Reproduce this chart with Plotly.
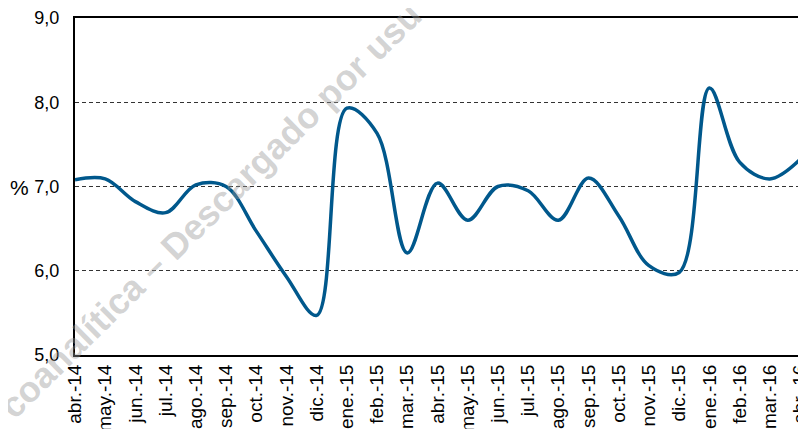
import plotly.graph_objects as go

months = ["abr.-14", "may.-14", "jun.-14", "jul.-14", "ago.-14", "sep.-14", "oct.-14",
          "nov.-14", "dic.-14", "ene.-15", "feb.-15", "mar.-15", "abr.-15", "may.-15",
          "jun.-15", "jul.-15", "ago.-15", "sep.-15", "oct.-15", "nov.-15", "dic.-15",
          "ene.-16", "feb.-16", "mar.-16", "abr.-16"]
values = [7.08, 7.09, 6.82, 6.69, 7.02, 7.00, 6.47, 5.93, 5.47, 7.93, 7.63, 6.21, 7.04,
          6.60, 7.00, 6.95, 6.60, 7.10, 6.65, 6.06, 5.98, 8.17, 7.29, 7.09, 7.32]
y_ticks = [5, 6, 7, 8, 9]

FONT = "Arial, Liberation Sans, sans-serif"

# page body has an 8px margin: size the figure to fill the remaining window
OFF = 8
W, H = 806 - OFF, 429 - OFF
L, R, T, B = 75 - OFF, 6, 18 - OFF, 74

fig = go.Figure()
fig.add_trace(go.Scatter(
    x=months, y=values, mode="lines",
    line=dict(color="#00588c", width=3.5, shape="spline", smoothing=1.0),
    hoverinfo="skip", showlegend=False,
))

fig.update_layout(
    width=W, height=H,
    margin=dict(l=L, r=R, t=T, b=B, autoexpand=False),
    paper_bgcolor="white", plot_bgcolor="white",
    separators=",.",
    font=dict(family=FONT, size=16, color="black"),
    xaxis=dict(
        type="category", range=[0, len(months) - 1],
        tickangle=-90, tickfont=dict(size=19, family=FONT, color="black"),
        showgrid=False, showline=True, linecolor="black", linewidth=2,
        mirror=True, ticks="", ticklen=0, automargin=False,
    ),
    yaxis=dict(
        range=[5, 9], tickvals=y_ticks, tickformat=".1f",
        tickfont=dict(size=18, family=FONT, color="black"),
        showgrid=True, gridcolor="#333333", gridwidth=1, griddash="4px,3px",
        showline=True, linecolor="black", linewidth=2, mirror=True,
        ticks="", zeroline=False, automargin=False, ticklabelstandoff=10,
    ),
)

pw = W - L - R
ph = H - T - B
def px_to_paper(px, py):
    # px, py given in window pixels
    return (px - OFF - L) / pw, (H - B - (py - OFF)) / ph

ax, ay = px_to_paper(19, 187)
wx, wy = px_to_paper(210, 210)
fig.update_layout(annotations=[
    dict(text="<b>coanalítica – Descargado por usu</b>", xref="paper", yref="paper",
         x=wx, y=wy, xanchor="center", yanchor="middle", showarrow=False,
         textangle=-44.5,
         font=dict(size=36, family=FONT, color="rgba(150,150,150,0.42)")),
    dict(text="%", x=ax, y=ay, xref="paper", yref="paper", showarrow=False,
         font=dict(size=21, family=FONT, color="black"), xanchor="center",
         yanchor="middle"),
])

fig.write_html("out.html")
